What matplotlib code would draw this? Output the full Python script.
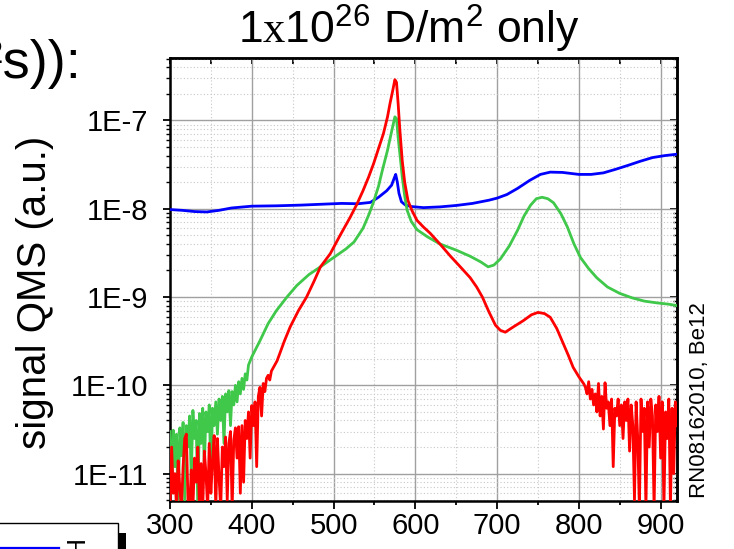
import matplotlib
matplotlib.use("Agg")
import matplotlib.pyplot as plt
from matplotlib.ticker import MultipleLocator, LogLocator, FuncFormatter, NullFormatter
from matplotlib.patches import Rectangle
from matplotlib.lines import Line2D
import numpy as np

plt.rcParams['font.family'] = ['Liberation Sans', 'DejaVu Sans']
plt.rcParams['mathtext.fontset'] = 'custom'
plt.rcParams['mathtext.rm'] = 'Liberation Sans'
plt.rcParams['mathtext.sf'] = 'Liberation Serif'

# ---------------- data (temperature, QMS signal) ----------------
blue_x = [300, 315, 330, 345, 360, 375, 390, 400, 430, 460, 490, 510, 530, 545, 555, 565, 571, 574,
          576, 578, 580, 583, 588, 595, 610, 630, 650, 670, 690, 700, 712, 725, 740, 753, 765, 780,
          800, 815, 830, 845, 860, 875, 890, 905, 920]
blue_y = [0.98e-8, 0.96e-8, 0.93e-8, 0.92e-8, 0.96e-8, 1.02e-8, 1.05e-8, 1.07e-8, 1.08e-8, 1.10e-8,
          1.13e-8, 1.15e-8, 1.14e-8, 1.18e-8, 1.35e-8, 1.6e-8, 1.85e-8, 2.2e-8, 2.45e-8, 2.0e-8,
          1.5e-8, 1.2e-8, 1.1e-8, 1.06e-8, 1.03e-8, 1.05e-8, 1.09e-8, 1.15e-8, 1.25e-8, 1.32e-8,
          1.45e-8, 1.7e-8, 2.1e-8, 2.45e-8, 2.6e-8, 2.58e-8, 2.45e-8, 2.45e-8, 2.55e-8, 2.8e-8,
          3.1e-8, 3.45e-8, 3.8e-8, 4.0e-8, 4.15e-8]

green_x = [300, 302, 304, 306, 308, 310, 312, 314, 316, 318, 320, 322, 324, 326, 328, 330, 332, 334,
           336, 338, 340, 342, 344, 346, 348, 350, 352, 354, 356, 358, 360, 362, 364, 366, 368, 370,
           372, 374, 376, 378, 380, 382, 384, 386, 388, 390, 392, 394, 396, 400, 410, 420, 430, 443,
           455, 470, 484, 500, 515, 525, 536, 543, 549, 555, 560, 566, 571, 575, 577, 579, 582, 584,
           587, 590, 595, 602, 615, 630, 650, 667, 680, 689, 696, 704, 715, 725, 733, 741, 748, 755,
           762, 769, 778, 786, 794, 802, 812, 822, 835, 850, 865, 880, 895, 910, 920]
green_y = [3.0e-11, 6e-12, 3.1e-11, 1.2e-11, 2.8e-11, 4e-12, 3.3e-11, 1.6e-11, 3.8e-11, 5e-12,
           3.5e-11, 2.0e-11, 4.5e-11, 9e-12, 5.2e-11, 2.5e-11, 4.0e-11, 4e-12, 4.8e-11, 2.2e-11,
           5.5e-11, 1.2e-11, 5.0e-11, 3.0e-11, 6.0e-11, 9e-12, 5.5e-11, 3.5e-11, 6.5e-11, 2.8e-11,
           7.0e-11, 4.0e-11, 7.5e-11, 2.2e-11, 8.0e-11, 5.0e-11, 8.7e-11, 3.5e-11, 8.5e-11, 6.0e-11,
           1.0e-10, 6.5e-11, 1.1e-10, 8.0e-11, 1.2e-10, 9.0e-11, 1.35e-10, 1.15e-10, 1.7e-10, 2.1e-10,
           3.2e-10, 5.0e-10, 7.0e-10, 1.0e-9, 1.35e-9, 1.8e-9, 2.2e-9, 2.8e-9, 3.5e-9, 4.2e-9,
           6.0e-9, 8.5e-9, 1.2e-8, 1.8e-8, 2.8e-8, 4.6e-8, 7.5e-8, 1.1e-7, 1.05e-7, 6.4e-8,
           3.5e-8, 2.3e-8, 1.4e-8, 9.6e-9, 7.2e-9, 5.8e-9, 4.8e-9, 4.0e-9, 3.4e-9, 2.9e-9,
           2.5e-9, 2.2e-9, 2.3e-9, 2.7e-9, 3.8e-9, 5.7e-9, 8.3e-9, 1.1e-8, 1.3e-8, 1.35e-8,
           1.3e-8, 1.17e-8, 8.8e-9, 6.2e-9, 4.0e-9, 2.8e-9, 2.1e-9, 1.65e-9, 1.3e-9, 1.1e-9,
           9.8e-10, 9.0e-10, 8.6e-10, 8.3e-10, 8.0e-10]

red_x = [300, 302, 304, 306, 308, 310, 312, 314, 316, 318, 320, 322, 324, 326, 328, 330, 332, 334,
         336, 338, 340, 342, 344, 346, 348, 350, 352, 354, 356, 358, 360, 362, 364, 366, 368, 370,
         372, 374, 376, 378, 380, 382, 384, 386, 388, 390, 392, 394, 396, 398, 400, 402, 404, 406,
         408, 410, 412, 414, 416, 418, 420, 422, 424, 431, 440, 447, 457, 467, 476, 484, 496, 508,
         520, 528, 536, 543, 549, 555, 561, 566, 569, 572, 575, 577, 579, 581, 584, 587, 591, 596,
         602, 610, 618, 630, 643, 655, 667, 675, 682, 690, 698, 704, 710, 720, 732, 742, 750, 758,
         765, 773, 781, 787, 793, 800, 806, 808, 810, 812, 814, 816, 818, 820, 822, 824, 826, 828,
         830, 832, 834, 836, 838, 840, 842, 844, 846, 848, 850, 852, 854, 856, 858, 860, 862, 864,
         866, 868, 870, 872, 874, 876, 878, 880, 882, 884, 886, 888, 890, 892, 894, 896, 898, 900,
         902, 904, 906, 908, 910, 912, 914, 916, 918, 920]
red_y = [4e-12, 2.0e-11, 6e-12, 1.0e-11, 4e-12, 1.4e-11, 7e-12, 4e-12, 1.2e-11, 2.5e-11,
         2.8e-11, 5e-12, 4e-12, 1.1e-11, 4e-12, 1.5e-11, 8e-12, 2.0e-11, 4e-12, 1.3e-11,
         4e-12, 1.8e-11, 1.0e-11, 4e-12, 2.2e-11, 6e-12, 1.4e-11, 2.7e-11, 4e-12, 2.5e-11,
         9e-12, 4e-12, 2.0e-11, 1.2e-11, 2.6e-11, 5e-12, 2.2e-11, 3.0e-11, 4e-12, 2.4e-11,
         3.3e-11, 1.5e-11, 3.4e-11, 6e-12, 3.5e-11, 8e-12, 4.0e-11, 2.5e-11, 5.0e-11, 1.5e-11,
         5.9e-11, 3.5e-11, 6.5e-11, 1.2e-11, 7.5e-11, 9.5e-11, 4.5e-11, 1.05e-10, 8.5e-11, 1.2e-10,
         1.3e-10, 1.15e-10, 1.45e-10, 1.9e-10, 3.2e-10, 4.6e-10, 7e-10, 1.0e-9, 1.5e-9, 2.2e-9,
         3.1e-9, 5e-9, 7.9e-9, 1.1e-8, 1.6e-8, 2.3e-8, 3.25e-8, 4.8e-8, 7.1e-8, 1.1e-7,
         1.55e-7, 2.1e-7, 2.9e-7, 2.7e-7, 1.55e-7, 8e-8, 3.5e-8, 2e-8, 1.24e-8, 9.5e-9,
         7.4e-9, 6.2e-9, 5.3e-9, 4.0e-9, 2.9e-9, 2.2e-9, 1.66e-9, 1.3e-9, 1.0e-9, 6.8e-10,
         4.8e-10, 4.2e-10, 4.0e-10, 4.6e-10, 5.4e-10, 6.3e-10, 6.7e-10, 6.5e-10, 5.9e-10, 4.4e-10,
         2.96e-10, 2.2e-10, 1.6e-10, 1.25e-10, 1.04e-10, 9.5e-11, 8e-11, 1.1e-10, 7e-11, 9e-11,
         6e-11, 8e-11, 5e-11, 1.05e-10, 4.5e-11, 7.5e-11, 3.2e-11, 1.07e-10, 5.5e-11, 6.5e-11,
         3.5e-11, 7e-11, 1.2e-11, 5.5e-11, 4.5e-11, 7e-11, 3.5e-11, 6e-11, 2.5e-11, 6.5e-11,
         4e-11, 7e-11, 1.8e-11, 6e-11, 3.5e-11, 5e-12, 6.5e-11, 2.5e-11, 4e-12, 7e-11,
         3e-11, 5.5e-11, 4e-12, 6.5e-11, 2e-11, 7e-11, 4.5e-11, 4e-12, 6e-11, 3e-11,
         7.5e-11, 1.5e-11, 6.5e-11, 4e-12, 5e-11, 2.5e-11, 7e-11, 4e-12, 5.5e-11, 1e-11,
         6.5e-11, 3.5e-11]

x_major = [300, 400, 500, 600, 700, 800, 900]
title_text = r"1$\mathsf{x}$10$^{26}$ D/m$^{2}$ only"
ylabel_text = "signal QMS (a.u.)"
side_text = "RN08162010, Be12"
cut_text = "flux (D/(m²s)):"

# ---------------- figure ----------------
W, H = 734, 549
fig = plt.figure(figsize=(W / 100, H / 100), dpi=100)
ax = fig.add_axes([170 / W, 1 - 501 / H, 507 / W, 443 / H])

ax.plot(blue_x, blue_y, color='#0000ff', lw=2.0, zorder=3)
ax.plot(green_x, green_y, color='#3fc84a', lw=2.0, zorder=4)
ax.plot(red_x, red_y, color='#ff0000', lw=2.0, zorder=5)

ax.set_yscale('log')
ax.set_xlim(300, 920)
ax.set_ylim(4.9e-12, 5.1e-7)

ax.set_xticks(x_major)
ax.xaxis.set_minor_locator(MultipleLocator(50))
ax.yaxis.set_major_locator(LogLocator(base=10, numticks=20))
ax.yaxis.set_minor_locator(LogLocator(base=10, subs=np.arange(2, 10), numticks=20))
ax.yaxis.set_major_formatter(FuncFormatter(lambda v, p: "1E%d" % int(round(np.log10(v)))))
ax.yaxis.set_minor_formatter(NullFormatter())

ax.grid(True, which='major', color='#a0a0a0', lw=1.0, ls='-', zorder=0)
ax.grid(True, which='minor', color='#c8c8c8', lw=0.8, ls=(0, (1, 2)), zorder=0)
ax.set_axisbelow(True)

for s in ax.spines.values():
    s.set_linewidth(1.8)
    s.set_color('black')

ax.tick_params(axis='x', which='major', direction='out', length=6, width=1.3, labelsize=21, pad=2,
               top=False)
ax.tick_params(axis='x', which='minor', direction='out', length=3, width=1.3, top=False)
ax.tick_params(axis='y', which='major', direction='out', length=5, width=1.3, labelsize=21, pad=11,
               right=False)
ax.tick_params(axis='y', which='minor', direction='out', length=3, width=1.0, right=False)

secx = ax.secondary_xaxis('top')
secx.xaxis.set_major_locator(MultipleLocator(100))
secx.xaxis.set_minor_locator(MultipleLocator(50))
secx.tick_params(which='both', direction='in', length=4, width=1.3, labeltop=False)
secx.spines['top'].set_linewidth(1.8)

secy = ax.secondary_yaxis('right')
secy.yaxis.set_major_locator(LogLocator(base=10, numticks=20))
secy.yaxis.set_minor_locator(LogLocator(base=10, subs=np.arange(2, 10), numticks=20))
secy.yaxis.set_minor_formatter(NullFormatter())
secy.tick_params(which='major', direction='in', length=5, width=1.3, labelright=False)
secy.tick_params(which='minor', direction='in', length=3, width=1.0, labelright=False)
secy.spines['right'].set_linewidth(1.8)

# texts
fig.text(35 / W, 1 - 292 / H, ylabel_text, rotation=90, ha='center', va='center', fontsize=29)
fig.text(409 / W, 1 - 44 / H, title_text, ha='center', va='baseline', fontsize=32)
fig.text(700 / W, 1 - 400 / H, side_text, rotation=90, ha='center', va='center', fontsize=16)
fig.text(81 / W, 1 - 78 / H, cut_text, ha='right', va='baseline', fontsize=39)

# cut-off legend fragment at bottom left
fig.patches.append(Rectangle((118 / W, 0), 8 / W, 16 / H, transform=fig.transFigure,
                             facecolor='black', edgecolor='none'))
fig.patches.append(Rectangle((-0.01, -0.01), 117.5 / W + 0.01, (549 - 523) / H + 0.01,
                             transform=fig.transFigure, facecolor='white', edgecolor='black',
                             lw=1.0))
fig.lines.append(Line2D([0, 59 / W], [1.5 / H, 1.5 / H], transform=fig.transFigure,
                        color='#0000ff', lw=1.6))
fig.text(77 / W, 1 - 536 / H, "H", rotation=90, ha='center', va='top', fontsize=19)

fig.savefig("out.png", dpi=100)
